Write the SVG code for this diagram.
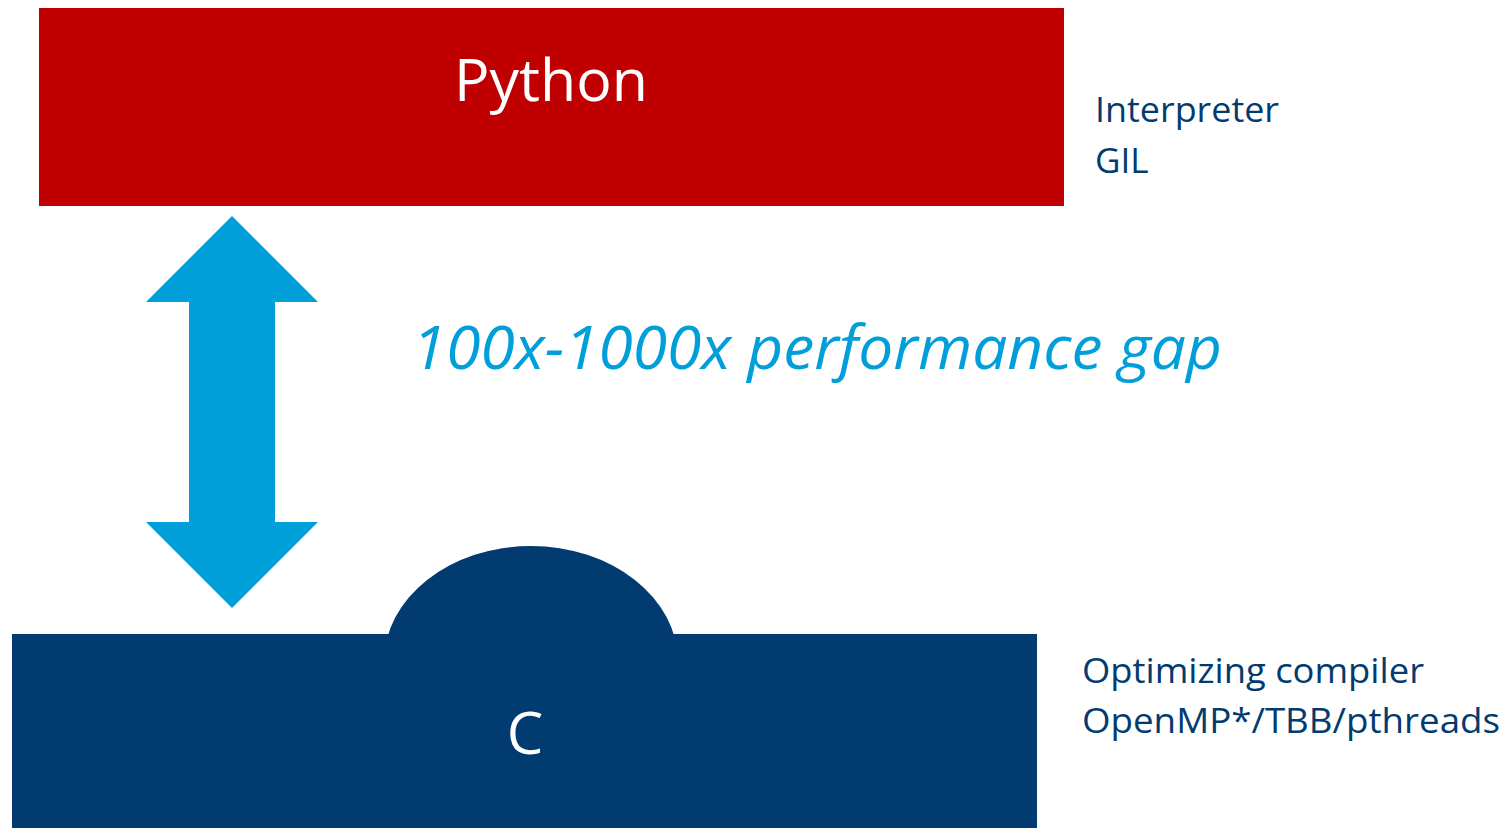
<svg xmlns="http://www.w3.org/2000/svg" width="1506" height="828" viewBox="0 0 1506 828">
  <style>
    .lbl { font-family: "Open Sans", "Noto Sans", sans-serif; }
    .white { fill: #FFFFFF; }
    .navy { fill: #023B70; }
    .side { font-size: 35px; fill: #023B70; }
  </style>
  <rect width="1506" height="828" fill="#FFFFFF"/>

  <!-- Python layer -->
  <g id="python">
    <rect x="39" y="8" width="1025" height="198" fill="#C00000"/>
    <text class="lbl white" x="551" y="101" font-size="58" text-anchor="middle" textLength="194" lengthAdjust="spacingAndGlyphs">Python</text>
  </g>

  <!-- C layer with dome -->
  <g id="c">
    <ellipse cx="531" cy="662" rx="147" ry="116" class="navy"/>
    <rect x="12" y="634" width="1025" height="194" class="navy"/>
    <text class="lbl white" x="525" y="754" font-size="58" text-anchor="middle">C</text>
  </g>

  <!-- side notes -->
  <g id="python-notes">
    <text class="lbl side" x="1095" y="122" textLength="184" lengthAdjust="spacingAndGlyphs">Interpreter</text>
    <text class="lbl side" x="1095" y="173">GIL</text>
  </g>
  <g id="c-notes">
    <text class="lbl side" x="1082" y="683" textLength="342" lengthAdjust="spacingAndGlyphs">Optimizing compiler</text>
    <text class="lbl side" x="1082" y="733" textLength="418" lengthAdjust="spacingAndGlyphs">OpenMP*/TBB/pthreads</text>
  </g>

  <!-- double-headed arrow between layers -->
  <g id="connectors">
    <polygon points="232,216 318,302 275,302 275,522 318,522 232,608 146,522 189,522 189,302 146,302" fill="#009FDA"/>
  </g>

  <g id="gap-label">
    <text class="lbl" x="412" y="369" font-size="60" font-style="italic" fill="#009FDA" textLength="810" lengthAdjust="spacingAndGlyphs">100x-1000x performance gap</text>
  </g>
</svg>
